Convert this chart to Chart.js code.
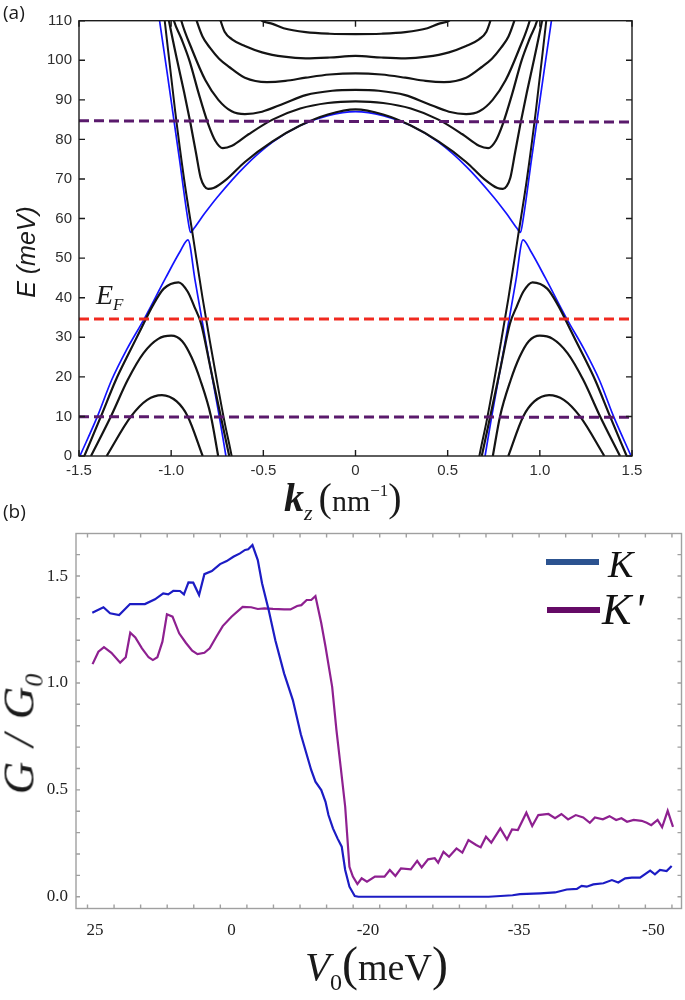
<!DOCTYPE html>
<html>
<head>
<meta charset="utf-8">
<script src="https://cdn.jsdelivr.net/npm/chart.js"></script>
<style>
  body { margin: 0; background: #fff; }
  #page { position: relative; width: 685px; height: 1000px; overflow: hidden; background: #fff; }
  canvas { position: absolute; left: 0; }
  .lbl { position: absolute; white-space: nowrap; color: #1a1a1a; }
  .serif { font-family: 'Liberation Serif', 'DejaVu Serif', serif; }
  .sans { font-family: 'Liberation Sans', Arial, sans-serif; }
  .rot { transform: translate(-50%, -50%) rotate(-90deg); }
  .sh { position: relative; }
  .leg-line { position: absolute; height: 6px; }
</style>
</head>
<body>
<div id="page">
  <canvas id="bands" width="685" height="500" style="top:0"></canvas>
  <canvas id="cond" width="685" height="500" style="top:500px"></canvas>

  <div class="lbl" style="left:3px;top:-1px;font:19px 'Open Sans',sans-serif;">(a)</div>
  <div class="lbl" style="left:3px;top:498px;font:19px 'Open Sans',sans-serif;">(b)</div>

  <div class="lbl sans rot" style="left:26px;top:252px;font-size:25px;font-style:italic;">E (meV)</div>

  <div class="lbl serif" style="left:284px;top:478px;font-size:40px;line-height:40px;">
    <span style="font-weight:bold;font-style:italic;">k</span><span class="sh" style="font-size:22px;font-style:italic;top:9px;">z</span><span style="margin-left:6px;">(</span><span style="font-size:30px;">nm</span><span class="sh" style="font-size:17px;top:-15px;">&minus;1</span><span>)</span>
  </div>

  <div class="lbl serif" style="left:96px;top:281px;font-size:28px;line-height:28px;font-style:italic;">E<span class="sh" style="font-size:17px;top:6px;">F</span></div>

  <div class="lbl serif rot" style="left:22px;top:734px;font-size:45px;line-height:45px;font-style:italic;">G<span style="margin:0 15px;">/</span>G<span class="sh" style="font-size:26px;top:9px;">0</span></div>

  <div class="lbl serif" style="left:305px;top:940px;font-size:48px;line-height:48px;">
    <span style="font-size:41px;font-style:italic;">V</span><span class="sh" style="font-size:24px;top:10px;">0</span><span>(</span><span style="font-size:38px;">meV</span><span>)</span>
  </div>

  <div id="legend"></div>
</div>

<script>
'use strict';

// ---------- panel (a): subbands, points as [kz, E] ----------
const bandW1 = [[-0.53,111],[-0.507,110],[-0.45,109.2],[-0.39,108.1],[-0.27,107.1],[-0.14,106.7],[0,106.6],
  [0.14,106.7],[0.27,107.1],[0.39,108.1],[0.45,109.2],[0.507,110],[0.53,111]];
const bandW2 = [[-0.745,112],[-0.732,110],[-0.71,107.2],[-0.67,105.3],[-0.6,103.6],[-0.507,102],[-0.388,100.9],[-0.27,100.5],[-0.14,100.7],[0,101.1],
  [0.14,100.7],[0.27,100.5],[0.388,100.9],[0.507,102],[0.6,103.6],[0.67,105.3],[0.71,107.2],[0.732,110],[0.745,112]];
const bandW3 = [[-0.875,112],[-0.862,110],[-0.83,106],[-0.79,103.2],[-0.74,100.4],[-0.685,98.3],[-0.6,95.6],[-0.48,94.5],[-0.38,94.8],[-0.27,95.6],[-0.14,96.4],[0,96.7],
  [0.14,96.4],[0.27,95.6],[0.38,94.8],[0.48,94.5],[0.6,95.6],[0.685,98.3],[0.74,100.4],[0.79,103.2],[0.83,106],[0.862,110],[0.875,112]];
const bandW4 = [[-0.955,112],[-0.945,110],[-0.886,102.6],[-0.815,95],[-0.744,90],[-0.672,87.1],[-0.6,86.4],[-0.507,87],[-0.388,89.1],[-0.27,91.2],[-0.126,92.3],[0,92.5],
  [0.126,92.3],[0.27,91.2],[0.388,89.1],[0.507,87],[0.6,86.4],[0.672,87.1],[0.744,90],[0.815,95],[0.886,102.6],[0.945,110],[0.955,112]];
const bandW5 = [[-0.995,112],[-0.985,110],[-0.945,105.5],[-0.9,99.8],[-0.85,91.5],[-0.8,84],[-0.76,79.6],[-0.72,77.8],[-0.67,78.4],[-0.58,81.3],[-0.45,85],[-0.3,87.8],[-0.15,89.2],[0,89.6],
  [0.15,89.2],[0.3,87.8],[0.45,85],[0.58,81.3],[0.67,78.4],[0.72,77.8],[0.76,79.6],[0.8,84],[0.85,91.5],[0.9,99.8],[0.945,105.5],[0.985,110],[0.995,112]];
const bandW6 = [[-1.02,112],[-1.012,110],[-0.97,100.5],[-0.93,92],[-0.895,84],[-0.865,76.5],[-0.84,70.3],[-0.82,68.2],[-0.8,67.5],[-0.77,67.7],[-0.7,69.9],[-0.6,74.3],[-0.45,79.5],[-0.3,83.5],[-0.15,86.3],[0,87.6],
  [0.15,86.3],[0.3,83.5],[0.45,79.5],[0.6,74.3],[0.7,69.9],[0.77,67.7],[0.8,67.5],[0.82,68.2],[0.84,70.3],[0.865,76.5],[0.895,84],[0.93,92],[0.97,100.5],[1.012,110],[1.02,112]];
const steepL = [[-1.04,112],[-1.035,110],[-0.979,87.4],[-0.93,70],[-0.88,55],[-0.83,40],[-0.79,29],[-0.75,18.5],[-0.71,8.5],[-0.672,0],[-0.665,-2]];
const steepR = [[0.665,-2],[0.672,0],[0.71,8.5],[0.75,18.5],[0.79,29],[0.83,40],[0.88,55],[0.93,70],[0.979,87.4],[1.035,110],[1.04,112]];
const tentAL = [[-1.471,0],[-1.381,10],[-1.3,19.2],[-1.24,25],[-1.17,31.5],[-1.1,38],[-1.04,42.3],[-0.96,43.9],[-0.91,41.5],[-0.874,37.7],[-0.838,33.5],[-0.79,23],[-0.74,12],[-0.685,0]];
const tentAR = [[0.685,0],[0.74,12],[0.79,23],[0.838,33.5],[0.874,37.7],[0.91,41.5],[0.96,43.9],[1.04,42.3],[1.1,38],[1.17,31.5],[1.24,25],[1.3,19.2],[1.381,10],[1.471,0]];
const tentBL = [[-1.435,0],[-1.327,10],[-1.236,19.2],[-1.15,26],[-1.07,29.6],[-1,30.4],[-0.94,29],[-0.89,25],[-0.842,19.2],[-0.784,10],[-0.745,0]];
const tentBR = [[0.745,0],[0.784,10],[0.842,19.2],[0.89,25],[0.94,29],[1,30.4],[1.07,29.6],[1.15,26],[1.236,19.2],[1.327,10],[1.435,0]];
const tentCL = [[-1.35,0],[-1.218,10],[-1.13,14.2],[-1.05,15.4],[-0.97,13.8],[-0.91,10],[-0.829,0]];
const tentCR = [[0.829,0],[0.91,10],[0.97,13.8],[1.05,15.4],[1.13,14.2],[1.218,10],[1.35,0]];
const blueUpper = [[-1.07,112],[-1.063,110],[-1.01,93],[-0.955,75],[-0.91,60],[-0.895,56.5],[-0.875,57.6],[-0.82,61.2],[-0.75,65.4],[-0.6,73.2],[-0.45,79.3],[-0.3,83.5],[-0.15,86],[0,87],
  [0.15,86],[0.3,83.5],[0.45,79.3],[0.6,73.2],[0.75,65.4],[0.82,61.2],[0.875,57.6],[0.895,56.5],[0.91,60],[0.955,75],[1.01,93],[1.063,110],[1.07,112]];
const blueTentL = [[-1.495,0],[-1.4,10],[-1.323,19.2],[-1.24,27],[-1.147,34.6],[-1.03,45],[-0.95,51.8],[-0.909,54.6],[-0.87,44.3],[-0.8,25.7],[-0.739,10],[-0.703,0]];
const blueTentR = [[0.703,0],[0.739,10],[0.8,25.7],[0.87,44.3],[0.909,54.6],[0.95,51.8],[1.03,45],[1.147,34.6],[1.24,27],[1.323,19.2],[1.4,10],[1.495,0]];

// dashed energy levels, value at kz = -1.5 and kz = 1.5
const levelEnds = [-1.5, 1.5];
const levelHigh = [84.7, 84.4];
const levelFermi = [34.6, 34.6];
const levelLow = [9.9, 9.8];

// ---------- panel (b): conductance, x in tick-mark units ----------
const seriesNames = ['K', "K'"];
const xLabelPos = [0.28, 5.42, 10.56, 16.25, 21.3];
const xLabels = ['25', '0', '-20', '-35', '-50'];
const yLabelPos = [0, 0.5, 1, 1.5];
const condK = [[0.18,1.328],[0.6,1.354],[0.85,1.326],[1.19,1.318],[1.6,1.369],[2.16,1.369],[2.54,1.391],[2.85,1.419],[3.04,1.414],[3.23,1.431],[3.48,1.43],[3.63,1.414],
  [3.8,1.47],[3.98,1.469],[4.2,1.411],[4.4,1.509],[4.68,1.523],[4.99,1.556],[5.24,1.57],[5.49,1.59],[5.74,1.606],[5.93,1.622],[6.05,1.625],[6.21,1.645],
  [6.41,1.575],[6.57,1.466],[6.82,1.341],[7.07,1.2],[7.4,1.045],[7.73,0.92],[8.03,0.76],[8.42,0.593],[8.58,0.538],[8.8,0.499],[8.96,0.444],[9.07,0.382],
  [9.24,0.32],[9.41,0.273],[9.57,0.234],[9.7,0.125],[9.86,0.047],[10.06,0.003],[10.2,0],[15.1,0],[16,0.007],[16.28,0.012],[17.04,0.016],[17.6,0.02],
  [18.04,0.034],[18.42,0.037],[18.6,0.051],[18.79,0.047],[19.04,0.058],[19.42,0.063],[19.74,0.078],[19.98,0.067],[20.24,0.086],[20.49,0.089],[20.8,0.089],
  [21.18,0.122],[21.36,0.105],[21.55,0.125],[21.8,0.12],[21.99,0.144]];
const condKp = [[0.19,1.088],[0.41,1.146],[0.62,1.167],[0.9,1.141],[1.23,1.095],[1.44,1.12],[1.61,1.235],[1.8,1.213],[2.05,1.162],[2.3,1.12],[2.46,1.107],[2.63,1.12],
  [2.82,1.193],[2.99,1.321],[3.2,1.31],[3.45,1.232],[3.7,1.188],[3.94,1.151],[4.14,1.135],[4.4,1.141],[4.6,1.162],[4.85,1.216],[5.09,1.266],[5.42,1.31],
  [5.84,1.356],[6.16,1.354],[6.41,1.346],[6.66,1.349],[6.98,1.346],[7.4,1.344],[7.64,1.344],[7.89,1.36],[8.05,1.364],[8.25,1.388],[8.42,1.388],[8.58,1.406],
  [8.8,1.279],[8.96,1.169],[9.21,0.982],[9.37,0.78],[9.53,0.608],[9.7,0.421],[9.86,0.14],[9.99,0.094],[10.16,0.059],[10.32,0.086],[10.52,0.07],[10.82,0.094],
  [11.18,0.094],[11.38,0.125],[11.59,0.097],[11.8,0.133],[12.17,0.128],[12.41,0.168],[12.58,0.137],[12.82,0.175],[13.07,0.18],[13.2,0.159],[13.4,0.21],
  [13.61,0.187],[13.89,0.226],[14.11,0.206],[14.34,0.265],[14.63,0.242],[14.8,0.231],[15,0.281],[15.2,0.253],[15.54,0.32],[15.79,0.268],[15.98,0.315],
  [16.2,0.312],[16.52,0.393],[16.74,0.331],[16.97,0.382],[17.35,0.387],[17.6,0.367],[17.84,0.387],[18.09,0.362],[18.38,0.382],[18.66,0.371],[18.91,0.346],
  [19.1,0.371],[19.4,0.362],[19.65,0.377],[19.9,0.359],[20.1,0.367],[20.31,0.351],[20.56,0.359],[20.86,0.355],[21.05,0.346],[21.22,0.335],[21.46,0.359],
  [21.63,0.325],[21.84,0.402],[22.04,0.327]];

const BLACK = '#141414';
const BLUE = '#1414ff';

const toXY = pts => pts.map(([x, y]) => ({ x, y }));

const band = (pts, color, width) => ({
    data: toXY(pts),
    borderColor: color,
    borderWidth: width,
    pointRadius: 0,
    fill: false,
    cubicInterpolationMode: 'monotone'
});

const level = (vals, color) => ({
    data: toXY(levelEnds.map((k, i) => [k, vals[i]])),
    borderColor: color,
    borderWidth: 3,
    borderDash: [10, 5],
    pointRadius: 0,
    fill: false
});

// box round the plot with inward ticks on all four sides
const frameTicks = {
    id: 'frameTicks',
    afterDraw: (chart, args, opts) => {
        const { ctx, chartArea: a, scales } = chart;
        const xs = scales.x, ys = scales.y;
        const xt = opts.xTicks || xs.ticks.map(t => t.value);
        const yt = opts.yTicks || ys.ticks.map(t => t.value);
        ctx.save();
        ctx.strokeStyle = opts.color;
        ctx.lineWidth = opts.width;
        ctx.beginPath();
        xt.forEach(v => {
            const p = xs.getPixelForValue(v);
            ctx.moveTo(p, a.bottom); ctx.lineTo(p, a.bottom - opts.len);
            ctx.moveTo(p, a.top); ctx.lineTo(p, a.top + opts.len);
        });
        yt.forEach(v => {
            const p = ys.getPixelForValue(v);
            ctx.moveTo(a.left, p); ctx.lineTo(a.left + opts.len, p);
            ctx.moveTo(a.right, p); ctx.lineTo(a.right - opts.len, p);
        });
        ctx.stroke();
        ctx.strokeRect(a.left, a.top, a.right - a.left, a.bottom - a.top);
        ctx.restore();
    }
};

Chart.defaults.animation = false;
Chart.defaults.plugins.legend.display = false;
Chart.defaults.plugins.tooltip.enabled = false;

// ---------- chart (a) ----------
new Chart(document.getElementById('bands'), {
    type: 'line',
    data: {
        datasets: [
            level(levelHigh, '#5a1a6c'),
            level(levelFermi, '#f02a20'),
            level(levelLow, '#5a1a6c'),
            band(bandW1, BLACK, 2.2), band(bandW2, BLACK, 2.2), band(bandW3, BLACK, 2.2),
            band(bandW4, BLACK, 2.2), band(bandW5, BLACK, 2.2), band(bandW6, BLACK, 2.2),
            band(steepL, BLACK, 2), band(steepR, BLACK, 2),
            band(tentAL, BLACK, 2.2), band(tentAR, BLACK, 2.2),
            band(tentBL, BLACK, 2.2), band(tentBR, BLACK, 2.2),
            band(tentCL, BLACK, 2.2), band(tentCR, BLACK, 2.2),
            band(blueUpper, BLUE, 1.7), band(blueTentL, BLUE, 1.7), band(blueTentR, BLUE, 1.7)
        ]
    },
    options: {
        responsive: false,
        layout: { padding: { left: 0, right: 53, top: 20.7, bottom: 0 } },
        scales: {
            x: {
                type: 'linear', min: -1.5, max: 1.5,
                grid: { display: false, drawTicks: false }, border: { display: false },
                ticks: { stepSize: 0.5, padding: 6, maxRotation: 0, color: '#2e2e2e', font: { family: "'Liberation Sans', Arial, sans-serif", size: 15 } },
                afterFit: s => { s.height = 44; }
            },
            y: {
                type: 'linear', min: 0, max: 110,
                grid: { display: false, drawTicks: false }, border: { display: false },
                ticks: { stepSize: 10, padding: 7, color: '#2e2e2e', font: { family: "'Liberation Sans', Arial, sans-serif", size: 15 } },
                afterFit: s => { s.width = 79; }
            }
        },
        plugins: {
            frameTicks: { color: '#1b1b1b', width: 1.4, len: 6 }
        }
    },
    plugins: [frameTicks]
});

// ---------- chart (b) ----------
const minorX = Array.from({ length: 23 }, (_, i) => i);
const minorY = Array.from({ length: 17 }, (_, i) => i / 10);

const condSeries = [
    { name: seriesNames[0], pts: condK, color: '#1c1cc4', legendColor: '#2c5390' },
    { name: seriesNames[1], pts: condKp, color: '#8e2090', legendColor: '#650a66' }
];

new Chart(document.getElementById('cond'), {
    type: 'line',
    data: {
        datasets: condSeries.map(s => ({
            label: s.name,
            data: toXY(s.pts),
            borderColor: s.color,
            borderWidth: 2.2,
            pointRadius: 0,
            tension: 0,
            fill: false
        }))
    },
    options: {
        responsive: false,
        layout: { padding: { left: 0, right: 3.5, top: 33.5, bottom: 0 } },
        scales: {
            x: {
                type: 'linear', min: -0.433, max: 22.36,
                grid: { display: false, drawTicks: false }, border: { display: false },
                afterBuildTicks: s => { s.ticks = xLabelPos.map(v => ({ value: v })); },
                ticks: {
                    autoSkip: false, maxRotation: 0, padding: 12, color: '#222',
                    font: { family: "'Liberation Serif', serif", size: 17 },
                    callback: (v, i) => xLabels[i]
                },
                afterFit: s => { s.height = 91.5; }
            },
            y: {
                type: 'linear', min: -0.055, max: 1.699,
                grid: { display: false, drawTicks: false }, border: { display: false },
                afterBuildTicks: s => { s.ticks = yLabelPos.map(v => ({ value: v })); },
                ticks: {
                    padding: 8, color: '#222',
                    font: { family: "'Liberation Serif', serif", size: 17 },
                    callback: v => v.toFixed(1)
                },
                afterFit: s => { s.width = 76; }
            }
        },
        plugins: {
            frameTicks: { color: '#a0a0a0', width: 1.4, len: 4, xTicks: minorX, yTicks: minorY }
        }
    },
    plugins: [frameTicks]
});

// legend for (b), built from the series
const legendPlaces = [
    { lineTop: 559, lineLeft: 546, textLeft: 608, textTop: 545, size: 38 },
    { lineTop: 606.5, lineLeft: 547, textLeft: 602, textTop: 588, size: 44 }
];
const legendBox = document.getElementById('legend');
condSeries.forEach((s, i) => {
    const p = legendPlaces[i];
    const line = document.createElement('div');
    line.className = 'leg-line';
    line.style.cssText = `left:${p.lineLeft}px;top:${p.lineTop}px;width:53px;background:${s.legendColor};`;
    const txt = document.createElement('div');
    txt.className = 'lbl serif';
    txt.style.cssText = `left:${p.textLeft}px;top:${p.textTop}px;font-size:${p.size}px;line-height:${p.size}px;font-style:italic;color:#111;letter-spacing:3px;`;
    txt.textContent = s.name;
    legendBox.appendChild(line);
    legendBox.appendChild(txt);
});
</script>
</body>
</html>
